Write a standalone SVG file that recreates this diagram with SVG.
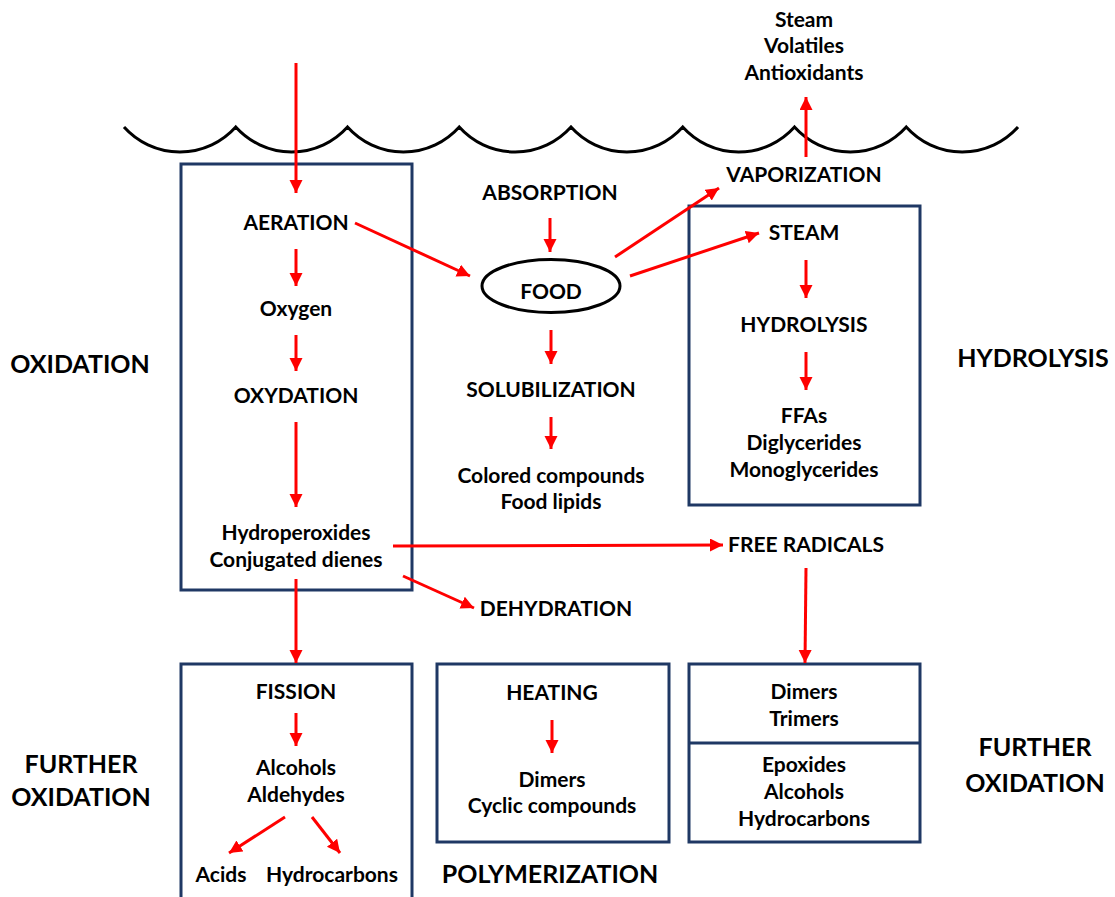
<svg xmlns="http://www.w3.org/2000/svg" width="1115" height="897" viewBox="0 0 1115 897">
<style>
  text { font-family: Lato, "Liberation Sans", sans-serif; font-weight: bold; fill: #000; text-anchor: middle; }
  .t { font-size: 21px; }
  .big { font-size: 25px; }
  .box { fill: none; stroke: #1F3864; stroke-width: 3; }
  .arr { fill: none; stroke: #FF0000; stroke-width: 3; marker-end: url(#ah); }
  .wave { fill: none; stroke: #000; stroke-width: 3; }
</style>
<defs>
  <marker id="ah" markerUnits="userSpaceOnUse" markerWidth="14" markerHeight="14" refX="13" refY="6.5" orient="auto">
    <path d="M0,0 L13,6.5 L0,13 z" fill="#FF0000"/>
  </marker>
</defs>
<rect width="1115" height="897" fill="#fff"/>

<path class="wave" d="M124,127 A75,75 0 0 0 235.75,127 A75,75 0 0 0 347.5,127 A75,75 0 0 0 459.25,127 A75,75 0 0 0 571,127 A75,75 0 0 0 682.75,127 A75,75 0 0 0 794.5,127 A75,75 0 0 0 906.25,127 A75,75 0 0 0 1018,127"/>

<g id="oxidation-box">
  <rect class="box" x="181" y="164" width="231" height="426"/>
  <text class="t" x="296" y="230">AERATION</text>
  <text class="t" x="296" y="316">Oxygen</text>
  <text class="t" x="296" y="403">OXYDATION</text>
  <text class="t" x="296" y="540">Hydroperoxides</text>
  <text class="t" x="296" y="567">Conjugated dienes</text>
</g>

<g id="fission-box">
  <rect class="box" x="181" y="664" width="231" height="240"/>
  <text class="t" x="296" y="699">FISSION</text>
  <text class="t" x="296" y="775">Alcohols</text>
  <text class="t" x="296" y="802">Aldehydes</text>
  <text class="t" x="221" y="882">Acids</text>
  <text class="t" x="332" y="882">Hydrocarbons</text>
</g>

<g id="heating-box">
  <rect class="box" x="437" y="664" width="232" height="178"/>
  <text class="t" x="552" y="700">HEATING</text>
  <text class="t" x="552" y="787">Dimers</text>
  <text class="t" x="552" y="813">Cyclic compounds</text>
</g>

<g id="hydrolysis-box">
  <rect class="box" x="689" y="206" width="231" height="299"/>
  <text class="t" x="804" y="240">STEAM</text>
  <text class="t" x="804" y="332">HYDROLYSIS</text>
  <text class="t" x="804" y="423">FFAs</text>
  <text class="t" x="804" y="450">Diglycerides</text>
  <text class="t" x="804" y="477">Monoglycerides</text>
</g>

<g id="further-box">
  <rect class="box" x="689" y="664" width="231" height="178"/>
  <line x1="689" y1="743" x2="920" y2="743" stroke="#1F3864" stroke-width="3"/>
  <text class="t" x="804" y="699">Dimers</text>
  <text class="t" x="804" y="726">Trimers</text>
  <text class="t" x="804" y="772">Epoxides</text>
  <text class="t" x="804" y="799">Alcohols</text>
  <text class="t" x="804" y="826">Hydrocarbons</text>
</g>

<g id="food">
  <ellipse cx="551" cy="286" rx="69" ry="26.5" fill="none" stroke="#000" stroke-width="3"/>
  <text class="t" x="551" y="299">FOOD</text>
</g>

<g id="free-labels">
  <text class="t" x="804" y="27">Steam</text>
  <text class="t" x="804" y="53">Volatiles</text>
  <text class="t" x="804" y="80">Antioxidants</text>
  <text class="t" x="804" y="182">VAPORIZATION</text>
  <text class="t" x="550" y="200">ABSORPTION</text>
  <text class="t" x="551" y="397">SOLUBILIZATION</text>
  <text class="t" x="551" y="483">Colored compounds</text>
  <text class="t" x="551" y="509">Food lipids</text>
  <text class="t" x="806" y="552">FREE RADICALS</text>
  <text class="t" x="556" y="616">DEHYDRATION</text>
  <text class="big" x="80" y="373">OXIDATION</text>
  <text class="big" x="1033" y="367">HYDROLYSIS</text>
  <text class="big" x="81" y="773">FURTHER</text>
  <text class="big" x="81" y="806">OXIDATION</text>
  <text class="big" x="550" y="883">POLYMERIZATION</text>
  <text class="big" x="1035" y="756">FURTHER</text>
  <text class="big" x="1035" y="792">OXIDATION</text>
</g>

<g id="connectors">
  <line class="arr" x1="296" y1="63" x2="296" y2="193"/>
  <line class="arr" x1="355" y1="223" x2="470" y2="276"/>
  <line class="arr" x1="550" y1="218" x2="550" y2="252"/>
  <line class="arr" x1="615" y1="257" x2="719" y2="188"/>
  <line class="arr" x1="630" y1="276" x2="759" y2="233"/>
  <line class="arr" x1="806" y1="157" x2="806" y2="97"/>
  <line class="arr" x1="296" y1="249" x2="296" y2="286"/>
  <line class="arr" x1="296" y1="335" x2="296" y2="371"/>
  <line class="arr" x1="296" y1="422" x2="296" y2="507"/>
  <line class="arr" x1="393" y1="546" x2="723" y2="545"/>
  <line class="arr" x1="403" y1="576" x2="474" y2="608"/>
  <line class="arr" x1="296" y1="579" x2="296" y2="663"/>
  <line class="arr" x1="806" y1="568" x2="805" y2="663"/>
  <line class="arr" x1="551" y1="330" x2="551" y2="364"/>
  <line class="arr" x1="551" y1="417" x2="551" y2="449"/>
  <line class="arr" x1="806" y1="260" x2="806" y2="298"/>
  <line class="arr" x1="806" y1="352" x2="806" y2="390"/>
  <line class="arr" x1="296" y1="713" x2="296" y2="746"/>
  <line class="arr" x1="285" y1="817" x2="229" y2="853"/>
  <line class="arr" x1="312" y1="817" x2="340" y2="853"/>
  <line class="arr" x1="552" y1="720" x2="552" y2="753"/>
</g>
</svg>
